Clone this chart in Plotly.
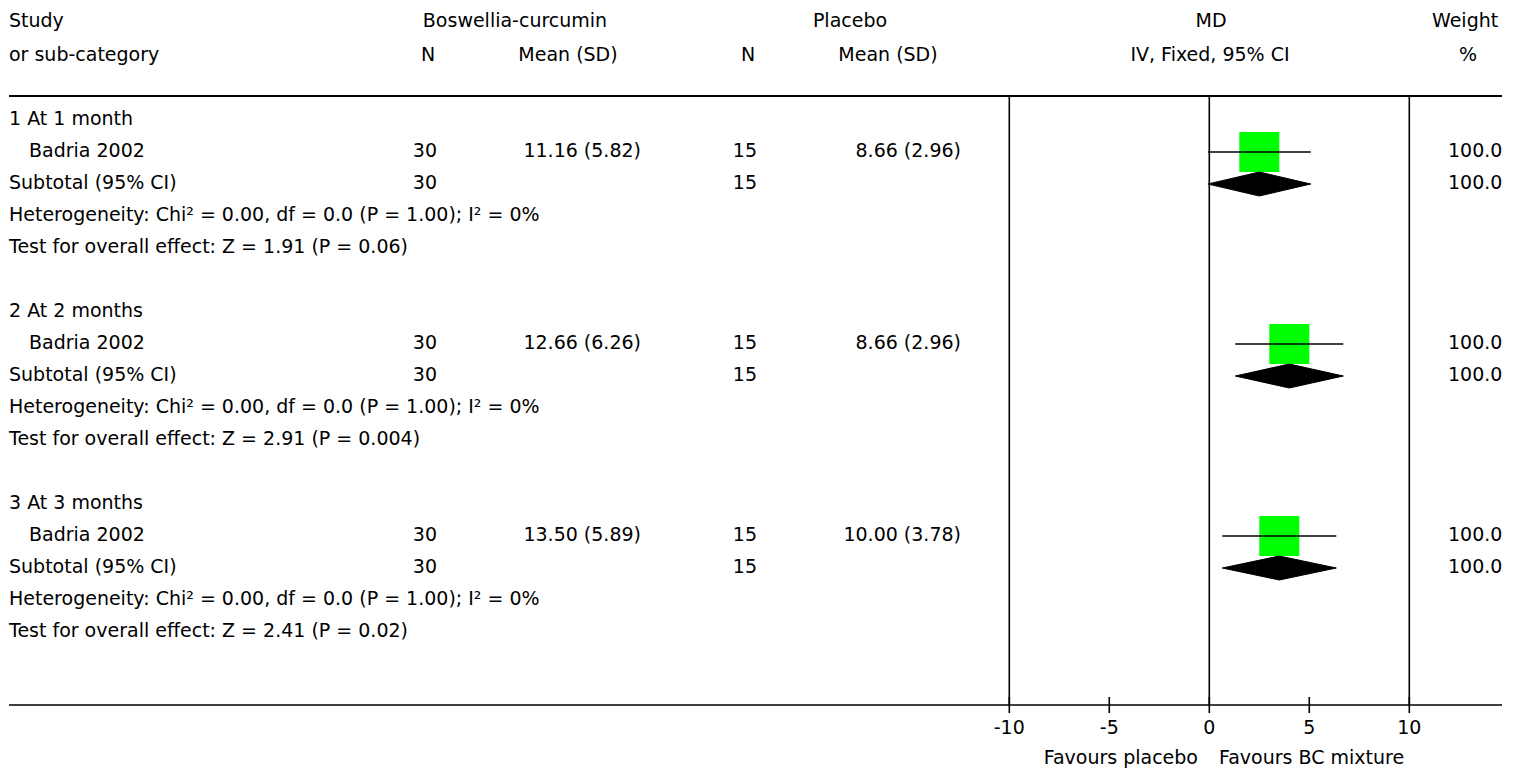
import plotly.graph_objects as go

# ---------------- data ----------------
groups = ["1 At 1 month", "2 At 2 months", "3 At 3 months"]
studies = ["Badria 2002", "Badria 2002", "Badria 2002"]
bc_n = [30, 30, 30]
bc_mean = [11.16, 12.66, 13.50]
bc_sd = [5.82, 6.26, 5.89]
pl_n = [15, 15, 15]
pl_mean = [8.66, 8.66, 10.00]
pl_sd = [2.96, 2.96, 3.78]
md = [2.50, 4.00, 3.50]
ci_lo = [-0.07, 1.30, 0.65]
ci_hi = [5.07, 6.70, 6.35]
weights = [100.00, 100.00, 100.00]
het_chi2 = ["0.00", "0.00", "0.00"]
het_df = ["0.0", "0.0", "0.0"]
het_p = ["1.00", "1.00", "1.00"]
het_i2 = ["0", "0", "0"]
z_vals = ["1.91", "2.91", "2.41"]
z_p = ["0.06", "0.004", "0.02"]
tick_vals = [-10, -5, 0, 5, 10]
ref_lines = [-10, 0, 10]
favours = ["Favours placebo", "Favours BC mixture"]

# ---------------- layout helpers (positions in reference-picture pixels) ----------------
REF_W, REF_H = 1519, 773
BODY = 8                 # default page margin of the html body
W, H = REF_W - BODY, REF_H - BODY
PLOT_R = 1502            # plot area ends where the picture is cut
X0_PX, PX_PER_UNIT = 1209.3, 20.0
ROW0_PX, ROW_PX = 120.0, 32.0


def px_x(p):
    return (p - X0_PX) / PX_PER_UNIT


def px_y(p):
    return (p - ROW0_PX) / ROW_PX


FONT = dict(family="DejaVu Sans", size=19, color="#000000")

left_x, left_y, left_t = [], [], []
cen_x, cen_y, cen_t = [], [], []
right_x, right_y, right_t = [], [], []


def add_left(p, r, t):
    left_x.append(px_x(p)); left_y.append(r); left_t.append(t)


def add_center(p, r, t):
    cen_x.append(px_x(p)); cen_y.append(r); cen_t.append(t)


def add_right(p, r, t):
    right_x.append(px_x(p)); right_y.append(r); right_t.append(t)


# header
h1, h2 = px_y(22), px_y(56)
add_left(9, h1, "Study")
add_left(9, h2, "or sub-category")
add_center(515, h1, "Boswellia-curcumin")
add_center(428, h2, "N")
add_center(568, h2, "Mean (SD)")
add_center(850, h1, "Placebo")
add_center(748, h2, "N")
add_center(888, h2, "Mean (SD)")
add_center(1211, h1, "MD")
add_center(1210, h2, "IV, Fixed, 95% CI")
add_left(1432, h1, "Weight")
add_center(1468, h2, "%")

study_rows, sub_rows = [], []
for g in range(len(groups)):
    base = 6 * g
    r_title, r_study, r_sub, r_het, r_test = base, base + 1, base + 2, base + 3, base + 4
    study_rows.append(r_study)
    sub_rows.append(r_sub)
    add_left(9, r_title, groups[g])
    add_left(29, r_study, studies[g])
    add_right(437, r_study, str(bc_n[g]))
    add_right(641, r_study, f"{bc_mean[g]:.2f} ({bc_sd[g]:.2f})")
    add_right(757, r_study, str(pl_n[g]))
    add_right(961, r_study, f"{pl_mean[g]:.2f} ({pl_sd[g]:.2f})")
    add_left(1448, r_study, f"{weights[g]:.2f}")
    add_left(9, r_sub, "Subtotal (95% CI)")
    add_right(437, r_sub, str(bc_n[g]))
    add_right(757, r_sub, str(pl_n[g]))
    add_left(1448, r_sub, f"{weights[g]:.2f}")
    add_left(9, r_het, f"Heterogeneity: Chi² = {het_chi2[g]}, df = {het_df[g]} (P = {het_p[g]}); I² = {het_i2[g]}%")
    add_left(9, r_test, f"Test for overall effect: Z = {z_vals[g]} (P = {z_p[g]})")

fig = go.Figure()

r_top = px_y(97)
r_axis = px_y(705)
r_tick_top, r_tick_bot = px_y(697), px_y(713)

# reference vertical lines
vx, vy = [], []
for v in ref_lines:
    vx += [v, v, None]
    vy += [r_top, r_axis, None]
fig.add_trace(go.Scatter(x=vx, y=vy, mode="lines", line=dict(color="#000", width=1.6),
                         hoverinfo="skip", showlegend=False))

# tick marks
tx, ty = [], []
for v in tick_vals:
    tx += [v, v, None]
    ty += [r_tick_top, r_tick_bot, None]
fig.add_trace(go.Scatter(x=tx, y=ty, mode="lines", line=dict(color="#000", width=1.6),
                         hoverinfo="skip", showlegend=False))

# study squares
fig.add_trace(go.Scatter(x=md, y=study_rows, mode="markers",
                         marker=dict(symbol="square", size=40, color="#00FF00", line=dict(width=0)),
                         showlegend=False))

# CI lines
cx, cy = [], []
for lo, hi, r in zip(ci_lo, ci_hi, study_rows):
    cx += [lo, hi, None]
    cy += [r, r, None]
fig.add_trace(go.Scatter(x=cx, y=cy, mode="lines", line=dict(color="#000", width=1.5),
                         showlegend=False))

# subtotal diamonds
half = 12 / ROW_PX
dx, dy = [], []
for lo, m, hi, r in zip(ci_lo, md, ci_hi, sub_rows):
    dx += [lo, m, hi, m, lo, None]
    dy += [r, r - half, r, r + half, r, None]
fig.add_trace(go.Scatter(x=dx, y=dy, mode="lines", fill="toself", fillcolor="#000",
                         line=dict(color="#000", width=1), showlegend=False))

# text
fig.add_trace(go.Scatter(x=left_x, y=left_y, text=left_t, mode="text",
                         textposition="middle right", textfont=FONT, showlegend=False,
                         hoverinfo="skip"))
fig.add_trace(go.Scatter(x=cen_x, y=cen_y, text=cen_t, mode="text",
                         textposition="middle center", textfont=FONT, showlegend=False,
                         hoverinfo="skip"))
fig.add_trace(go.Scatter(x=right_x, y=right_y, text=right_t, mode="text",
                         textposition="middle left", textfont=FONT, showlegend=False,
                         hoverinfo="skip"))

# axis tick labels
fig.add_trace(go.Scatter(x=tick_vals, y=[px_y(729)] * len(tick_vals),
                         text=[str(v) for v in tick_vals], mode="text",
                         textposition="middle center", textfont=FONT, showlegend=False,
                         hoverinfo="skip"))
# favours labels
fig.add_trace(go.Scatter(x=[px_x(1198)], y=[px_y(759)], text=[favours[0]], mode="text",
                         textposition="middle left", textfont=FONT, showlegend=False,
                         hoverinfo="skip"))
fig.add_trace(go.Scatter(x=[px_x(1219)], y=[px_y(759)], text=[favours[1]], mode="text",
                         textposition="middle right", textfont=FONT, showlegend=False,
                         hoverinfo="skip"))

# horizontal rules
plot_w = PLOT_R - BODY
for p, w in [(96, 2.2), (705, 1.6)]:
    fig.add_shape(type="line", xref="paper", yref="y", x0=(9 - BODY) / plot_w, x1=1,
                  y0=px_y(p), y1=px_y(p), line=dict(color="#000", width=w), layer="above")

fig.update_layout(
    width=W, height=H,
    margin=dict(l=0, r=REF_W - PLOT_R, t=0, b=0),
    paper_bgcolor="white", plot_bgcolor="white",
    xaxis=dict(range=[px_x(BODY), px_x(PLOT_R)], visible=False, fixedrange=True),
    yaxis=dict(range=[px_y(REF_H), px_y(BODY)], visible=False, fixedrange=True),
    showlegend=False,
)

fig.write_html("out.html")
